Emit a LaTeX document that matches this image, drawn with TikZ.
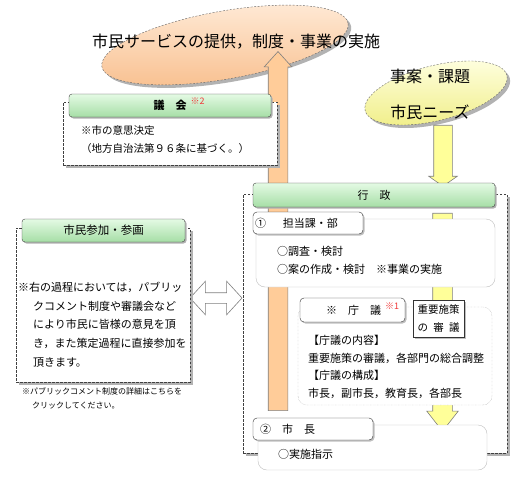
\documentclass[tikz,border=0pt]{standalone}
\usepackage{fontspec}
\setmainfont{Noto Sans CJK JP}
\usetikzlibrary{shapes.geometric,shapes.arrows,shadows}
\definecolor{peachtop}{HTML}{FFEBD8}
\definecolor{peachbot}{HTML}{F8BF8E}
\definecolor{lemontop}{HTML}{FFFFE2}
\definecolor{lemonbot}{HTML}{F0EE86}
\definecolor{orangeflow}{HTML}{FFCC99}
\definecolor{yellowflow}{HTML}{FFFF99}
\definecolor{bartop}{HTML}{E4FAE4}
\definecolor{barbot}{HTML}{A6DEA6}
\definecolor{notered}{HTML}{F03A3A}
\newcommand{\fsz}[2]{\fontsize{#1pt}{#2pt}\selectfont}
\newcommand{\rednote}[1]{\makebox[0pt][l]{\hspace{4pt}\raisebox{5pt}[0pt][0pt]{\color{notered}\fsz{9}{9}\mdseries#1}}}

\begin{document}
\begin{tikzpicture}[x=1pt,y=-1pt,
  every node/.style={inner sep=0pt,outer sep=0pt},
  blob/.style={ellipse,draw=black!60,dash pattern=on 2pt off 1.5pt,
    drop shadow={shadow xshift=3pt,shadow yshift=-3pt,fill=black!30,opacity=1}},
  panel/.style={draw=black!75,dash pattern=on 2.5pt off 1.5pt,fill=white,
    drop shadow={shadow xshift=3pt,shadow yshift=-3pt,fill=black!30,opacity=1}},
  bar/.style={rounded corners=3pt,draw=black!75,top color=bartop,bottom color=barbot,
    drop shadow={shadow xshift=1.5pt,shadow yshift=-1.5pt,fill=black!30,opacity=1}},
  tab/.style={rounded corners=4pt,draw=black!80,fill=white,
    drop shadow={shadow xshift=1.5pt,shadow yshift=-1.5pt,fill=black!25,opacity=1}},
  softbox/.style={rounded corners=9pt,draw=black!25,fill=white},
  flow/.style={draw=black!50,line width=0.6pt,inner xsep=0pt}]
  \useasboundingbox (0,0) rectangle (519,479);

  % goal and input clouds
  \node[blob,top color=peachtop,bottom color=peachbot,minimum width=250pt,minimum height=68pt,rotate=10] (service) at (225,45) {};
  \node[blob,top color=lemontop,bottom color=lemonbot,minimum width=146pt,minimum height=55pt,rotate=14] (needs) at (436,93) {};
  \node[font=\fsz{16}{18}] (title) at (236,42) {市民サービスの提供，制度・事業の実施};
  \node[font=\fsz{16}{18}] (issue) at (430,76) {事案・課題};
  \node[font=\fsz{16}{18}] (voice) at (430,112) {市民ニーズ};

  % administration frame
  \node[panel,minimum width=264pt,minimum height=259pt,anchor=north west] (admin) at (243,194) {};

  % block arrows
  \node[flow,single arrow,fill=orangeflow,inner ysep=9.5pt,single arrow head extend=4pt,
    single arrow tip angle=84,minimum height=359pt,rotate=90] (upflow) at (278,236.5) {};
  \node[flow,single arrow,fill=yellowflow,inner ysep=9pt,single arrow head extend=5pt,
    single arrow tip angle=110,minimum height=61pt,rotate=-90] (needsflow) at (443,152.5) {};
  \node[flow,single arrow,fill=yellowflow,inner ysep=9.5pt,single arrow head extend=6pt,
    single arrow tip angle=76,minimum height=218pt,rotate=-90] (downflow) at (442.5,316) {};
  \node[flow,double arrow,fill=white,inner ysep=5pt,double arrow head extend=11.5pt,
    double arrow tip angle=95,minimum height=52pt] (exchange) at (216,298) {};

  % council
  \node[panel,minimum width=214pt,minimum height=63pt,anchor=north west] (council) at (63,102) {};
  \node[bar,minimum width=202pt,minimum height=23pt,anchor=north west,font=\fsz{11}{13}\bfseries] (councilbar) at (69,94) {議　会\rednote{※2}};
  \node[anchor=north west,align=left,font=\fsz{10.5}{18}] (councilnote) at (81,125.3) {※市の意思決定\\（地方自治法第９６条に基づく。）};

  % citizens
  \node[panel,minimum width=174pt,minimum height=154pt,anchor=north west] (civic) at (16,228) {};
  \node[bar,minimum width=163pt,minimum height=23pt,anchor=north west,font=\fsz{11.5}{13}] (civicbar) at (22,219) {市民参加・参画};
  \node[anchor=north west,align=left,font=\fsz{11}{18.7}] (civicnote) at (18,282) {※右の過程においては，パブリッ\\\hspace*{15pt}クコメント制度や審議会など\\\hspace*{15pt}により市民に皆様の意見を頂\\\hspace*{15pt}き，また策定過程に直接参加を\\\hspace*{15pt}頂きます。};
  \node[anchor=north west,align=left,font=\fsz{8}{14}] (footnote) at (22,387.5) {※パブリックコメント制度の詳細はこちらを\\\hspace*{10pt}クリックしてください。};

  % administration
  \node[bar,minimum width=242pt,minimum height=24pt,anchor=north west,font=\fsz{11}{13}] (adminbar) at (253,183) {行　政};
  \node[softbox,minimum width=239pt,minimum height=68pt,anchor=north west] (depbox) at (256,219) {};
  \node[tab,minimum width=110pt,minimum height=22pt,anchor=north west] (deptab) at (253,212) {};
  \node[anchor=west,font=\fsz{11}{13}] (deplabel) at ([xshift=2pt]deptab.west) {①\hspace{17pt}担当課・部};
  \node[anchor=north west,align=left,font=\fsz{11}{18}] (depnote) at (277,246) {○調査・検討\\○案の作成・検討　※事業の実施};

  \node[softbox,draw=black!35,densely dotted,minimum width=194pt,minimum height=98pt,anchor=north west] (meetbox) at (298,307) {};
  \node[tab,minimum width=105pt,minimum height=24pt,anchor=north west] (meettab) at (300,298) {};
  \node[anchor=west,font=\fsz{11}{13}] (meetlabel) at ([xshift=26pt]meettab.west) {※　庁　議\rednote{※1}};
  \node[draw=black!80,fill=white,minimum width=51pt,minimum height=37pt,anchor=north west,align=center,font=\fsz{10.5}{18},
    drop shadow={shadow xshift=1.5pt,shadow yshift=-1.5pt,fill=black!25,opacity=1}] (policy) at (413,300) {重要施策\\\makebox[42pt]{の\hfill 審\hfill 議}};
  \node[anchor=north west,align=left,font=\fsz{11}{17.7}] (meetnote) at (308,335) {【庁議の内容】\\重要施策の審議，各部門の総合調整\\【庁議の構成】\\市長，副市長，教育長，各部長};

  \node[softbox,minimum width=229pt,minimum height=45pt,anchor=north west] (mayorbox) at (258,425) {};
  \node[tab,minimum width=120pt,minimum height=22pt,anchor=north west] (mayortab) at (253,418) {};
  \node[anchor=west,font=\fsz{11}{13}] (mayorlabel) at ([xshift=7pt]mayortab.west) {②　市　長};
  \node[anchor=north west,font=\fsz{11}{13}] (mayornote) at (278,449) {○実施指示};
\end{tikzpicture}
\end{document}
